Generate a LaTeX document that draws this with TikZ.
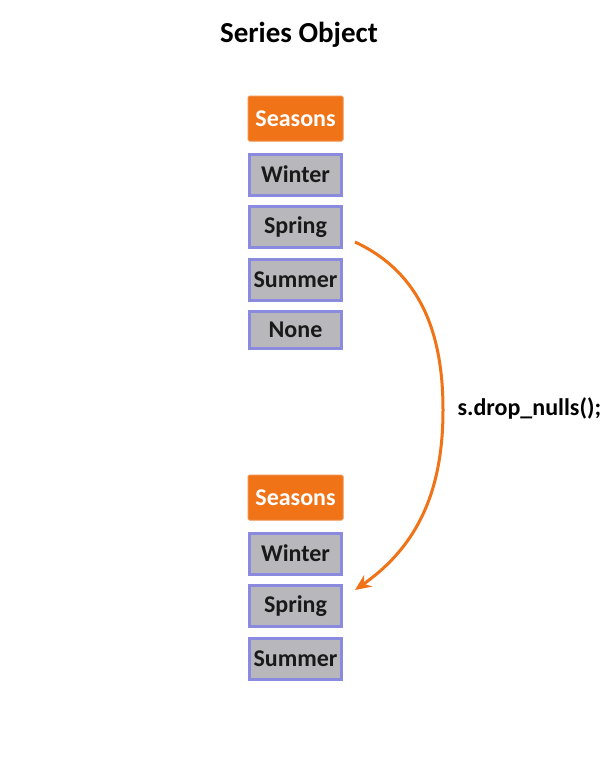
\documentclass[tikz,border=0pt]{standalone}
\usepackage{fontspec}
\setmainfont{Carlito}
\definecolor{HeadOrange}{HTML}{F07318}
\definecolor{CellGray}{HTML}{B8B8BC}
\definecolor{CellEdge}{HTML}{8A8ADE}
\usetikzlibrary{arrows.meta,positioning}
\tikzset{
  headnode/.style={
    fill=HeadOrange,
    draw=HeadOrange!80!white,
    line width=1pt,
    rounded corners=1.5pt,
    minimum width=95pt,
    minimum height=45pt,
    font=\fontsize{24}{28}\selectfont\bfseries,
    text=white
  },
  cellnode/.style={
    fill=CellGray,
    draw=CellEdge,
    line width=3pt,
    minimum width=92pt,
    minimum height=41pt,
    font=\fontsize{24}{28}\selectfont\bfseries,
    text=black!90
  },
  droparrow/.style={
    -{Stealth[length=16pt,width=14pt]},
    line width=3pt,
    draw=HeadOrange
  }
}
\begin{document}
\begin{tikzpicture}[x=1pt,y=-1pt,node distance=8.5pt]
\useasboundingbox (0,0) rectangle (600,779);
\node[font=\fontsize{29}{34}\selectfont\bfseries] (title) at (299,35) {Series Object};
% before
\node[headnode] (seasonsA) at (295.5,118.5) {Seasons};
\node[cellnode, below=11pt of seasonsA] (winterA) {Winter};
\node[cellnode, below=of winterA] (springA) {Spring};
\node[cellnode, below=of springA] (summerA) {Summer};
\node[cellnode, below=of summerA, minimum height=37pt] (noneA) {None};
% after
\node[headnode] (seasonsB) at (295.5,497.5) {Seasons};
\node[cellnode, below=11pt of seasonsB] (winterB) {Winter};
\node[cellnode, below=of winterB] (springB) {Spring};
\node[cellnode, below=of springB] (summerB) {Summer};
% arrow
\coordinate (dropstart) at ([xshift=12pt,yshift=-15pt]springA.east);
\coordinate (dropend) at ([xshift=12pt,yshift=16pt]springB.east);
\coordinate (dropbend) at (443,410);
\draw[droparrow] (dropstart) to[out=-25,in=90] (dropbend) to[out=-90,in=35] (dropend);
\node[anchor=west, font=\fontsize{24}{28}\selectfont\bfseries] (droplabel) at ([xshift=11pt,yshift=2pt]dropbend) {s.drop\_nulls();};
\end{tikzpicture}
\end{document}
